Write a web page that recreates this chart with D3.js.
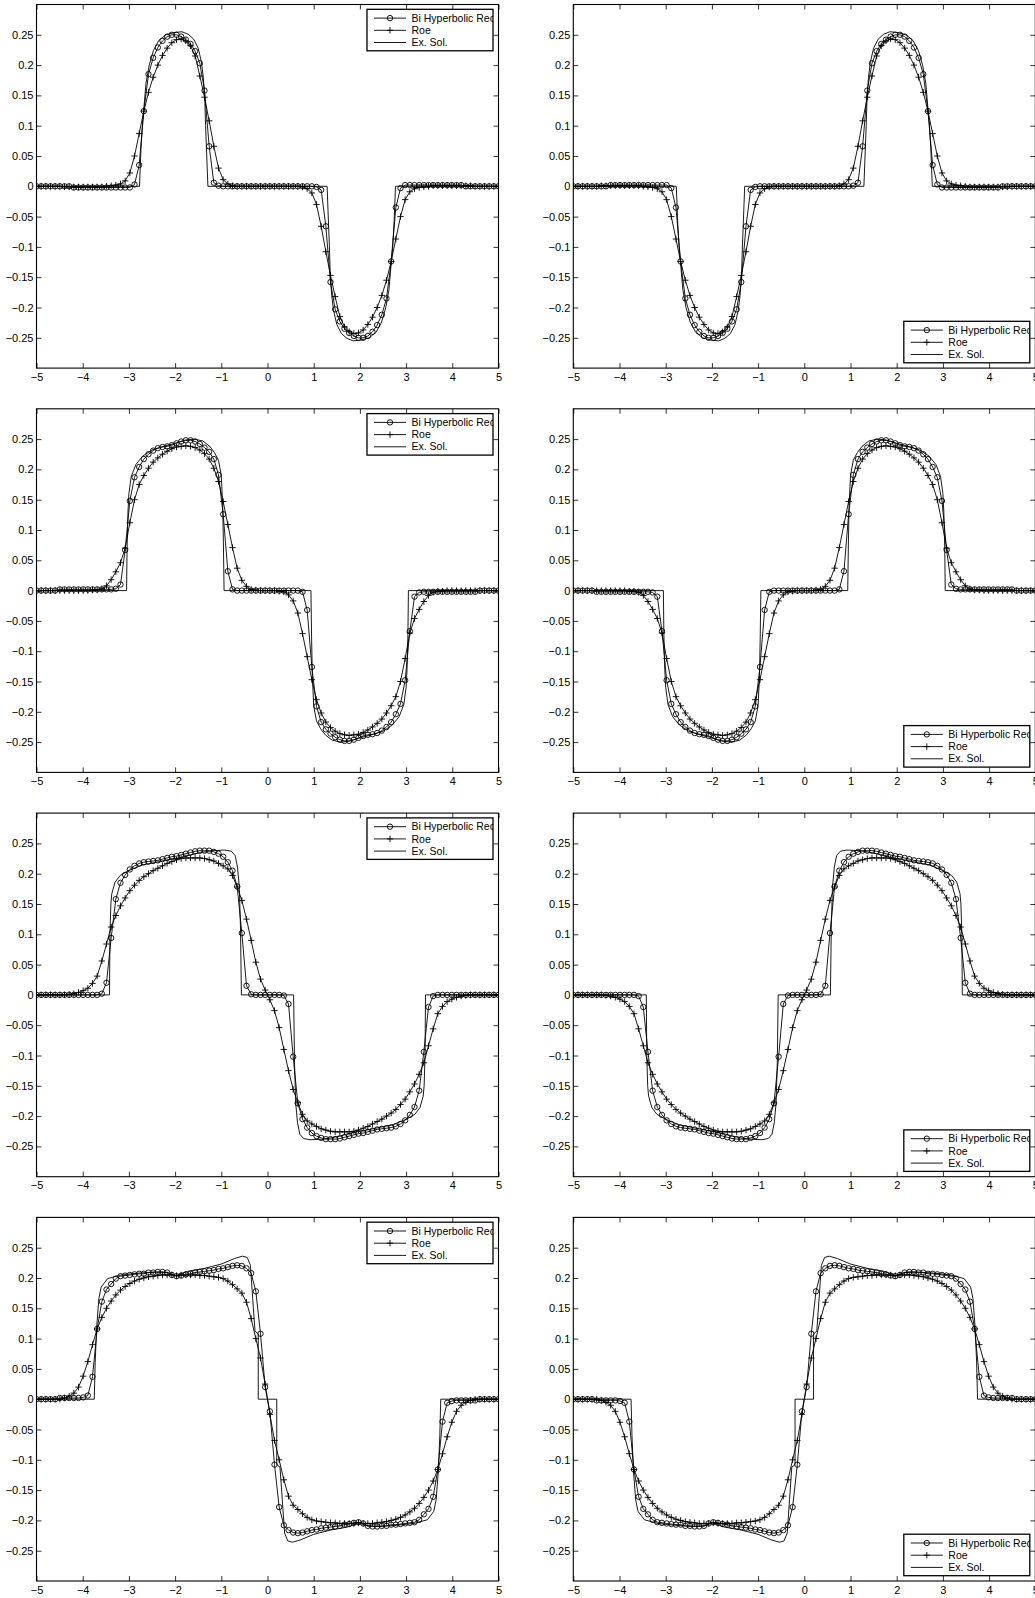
<!DOCTYPE html>
<html>
<head>
<meta charset="utf-8">
<script src="https://cdnjs.cloudflare.com/ajax/libs/d3/7.8.5/d3.min.js"></script>
<style>
  body { margin: 0; background: #fff; }
  svg { display: block; font-family: "Liberation Sans", Arial, Helvetica, sans-serif; }
  .tick line { stroke: #000; stroke-width: 0.8; }
  .tick text { font-size: 11px; fill: #000; }
  .legend text { font-size: 10.5px; fill: #000; }
</style>
</head>
<body>
<div id="chart"></div>
<script>
// cell positions of the numerical solutions: linspace(-5, 5, 100)
const gridX = d3.range(100).map(i => -5 + 10 * i / 99);

const xTicks = [-5, -4, -3, -2, -1, 0, 1, 2, 3, 4, 5];
const yTicks = [-0.25, -0.2, -0.15, -0.1, -0.05, 0, 0.05, 0.1, 0.15, 0.2, 0.25];
const legendLabels = ['Bi Hyperbolic Rec', 'Roe', 'Ex. Sol.'];

// ---- row 1 ----
const p1Bhr = [
  0, 0, 0, 0, 0, 0, 0, 0, -0.002, -0.002,
  -0.002, -0.002, -0.002, -0.002, -0.002, -0.002, -0.002, -0.002, -0.002, -0.002,
  -0.002, 0.003, 0.035, 0.124, 0.185, 0.212, 0.229, 0.240, 0.247, 0.250,
  0.250, 0.247, 0.242, 0.235, 0.223, 0.203, 0.158, 0.066, 0.006, 0.001,
  0, 0, 0, 0, 0, 0, 0, 0, 0, 0,
  0, 0, 0, 0, 0, 0, 0, 0, 0, 0,
  -0.001, -0.006, -0.066, -0.158, -0.203, -0.223, -0.235, -0.242, -0.247, -0.250,
  -0.250, -0.247, -0.240, -0.229, -0.212, -0.185, -0.124, -0.035, -0.003, 0.002,
  0.002, 0.002, 0.002, 0.002, 0.002, 0.002, 0.002, 0.002, 0.002, 0.002,
  0.002, 0.002, 0, 0, 0, 0, 0, 0, 0, 0
];
const p1Roe = [
  0, 0, 0, 0, 0, 0, -0.001, -0.001, -0.001, -0.001,
  -0.001, -0.001, -0.001, -0.001, -0.001, 0, 0.001, 0.002, 0.004, 0.009,
  0.022, 0.050, 0.087, 0.124, 0.155, 0.180, 0.200, 0.216, 0.228, 0.237,
  0.242, 0.243, 0.240, 0.232, 0.215, 0.182, 0.147, 0.108, 0.066, 0.030,
  0.011, 0.004, 0.001, 0, 0, 0, 0, 0, 0, 0,
  0, 0, 0, 0, 0, 0, 0, -0.001, -0.004, -0.011,
  -0.030, -0.066, -0.108, -0.147, -0.182, -0.215, -0.232, -0.240, -0.243, -0.242,
  -0.237, -0.228, -0.216, -0.200, -0.180, -0.155, -0.124, -0.087, -0.050, -0.022,
  -0.009, -0.004, -0.002, -0.001, 0, 0.001, 0.001, 0.001, 0.001, 0.001,
  0.001, 0.001, 0.001, 0.001, 0, 0, 0, 0, 0, 0
];
const p1ExX = [-5, -2.77, -2.74, -2.71, -2.68, -2.63, -2.56, -2.47, -2.35, -2.2, -2.0,
  -1.85, -1.72, -1.6, -1.5, -1.43, -1.39, -1.36, -1.34, -1.31, -1.29,
  1.29, 1.31, 1.34, 1.36, 1.39, 1.43, 1.5, 1.6, 1.72, 1.85,
  2.0, 2.2, 2.35, 2.47, 2.56, 2.63, 2.68, 2.71, 2.74, 2.77, 5];
const p1ExY = [0, 0, 0.06, 0.1, 0.125, 0.17, 0.2, 0.224, 0.241, 0.25, 0.254,
  0.255, 0.251, 0.243, 0.228, 0.205, 0.18, 0.15, 0.1, 0.04, 0,
  0, -0.04, -0.1, -0.15, -0.18, -0.205, -0.228, -0.243, -0.251, -0.255,
  -0.254, -0.25, -0.241, -0.224, -0.2, -0.17, -0.125, -0.1, -0.06, 0, 0];

// ---- row 2 ----
const p2Bhr = [
  0, 0, 0, 0, 0, 0.002, 0.002, 0.002, 0.002, 0.002,
  0.002, 0.002, 0.002, 0.002, 0.002, 0.002, 0.002, 0.003, 0.010, 0.067,
  0.148, 0.187, 0.204, 0.217, 0.225, 0.231, 0.235, 0.237, 0.238, 0.240,
  0.243, 0.246, 0.248, 0.248, 0.246, 0.242, 0.236, 0.229, 0.217, 0.191,
  0.126, 0.032, 0.002, 0, 0, 0, 0, 0, 0, 0,
  0, 0, 0, 0, 0, 0, 0, -0.002, -0.032, -0.126,
  -0.191, -0.217, -0.229, -0.236, -0.242, -0.246, -0.248, -0.248, -0.246, -0.243,
  -0.240, -0.238, -0.237, -0.235, -0.231, -0.225, -0.217, -0.204, -0.187, -0.148,
  -0.067, -0.010, -0.003, -0.002, -0.002, -0.002, -0.002, -0.002, -0.002, -0.002,
  -0.002, -0.002, -0.002, -0.002, -0.002, 0, 0, 0, 0, 0
];
const p2Roe = [
  0, 0, 0, 0, 0, 0, 0, 0, 0, 0,
  0, 0, 0.001, 0.001, 0.003, 0.008, 0.018, 0.031, 0.046, 0.070,
  0.112, 0.150, 0.175, 0.190, 0.202, 0.212, 0.219, 0.225, 0.230, 0.234,
  0.237, 0.238, 0.239, 0.238, 0.236, 0.232, 0.226, 0.217, 0.202, 0.180,
  0.147, 0.109, 0.071, 0.037, 0.017, 0.007, 0.002, 0.001, 0, 0,
  0, 0, -0.001, -0.002, -0.007, -0.017, -0.037, -0.071, -0.109, -0.147,
  -0.180, -0.202, -0.217, -0.226, -0.232, -0.236, -0.238, -0.239, -0.238, -0.237,
  -0.234, -0.230, -0.225, -0.219, -0.212, -0.202, -0.190, -0.175, -0.150, -0.112,
  -0.070, -0.046, -0.031, -0.018, -0.008, -0.003, -0.001, -0.001, 0, 0,
  0, 0, 0, 0, 0, 0, 0, 0, 0, 0
];
const p2ExX = [-5, -3.05, -3.04, -3.02, -3.0, -2.95, -2.85, -2.7, -2.5, -2.3, -2.05,
  -1.8, -1.6, -1.4, -1.25, -1.15, -1.06, -1.0, -0.97, -0.955, -0.94,
  0.94, 0.955, 0.97, 1.0, 1.06, 1.15, 1.25, 1.4, 1.6, 1.8,
  2.05, 2.3, 2.5, 2.7, 2.85, 2.95, 3.0, 3.02, 3.04, 3.05, 5];
const p2ExY = [0, 0, 0.07, 0.13, 0.16, 0.188, 0.208, 0.222, 0.232, 0.237, 0.242,
  0.248, 0.25, 0.247, 0.238, 0.228, 0.215, 0.19, 0.14, 0.08, 0,
  0, -0.08, -0.14, -0.19, -0.215, -0.228, -0.238, -0.247, -0.25, -0.248,
  -0.242, -0.237, -0.232, -0.222, -0.208, -0.188, -0.16, -0.13, -0.07, 0, 0];

// ---- row 3 ----
const p3Bhr = [
  0, 0, 0, 0, 0, 0, 0, 0, 0, 0,
  0, 0, 0, 0, 0.002, 0.020, 0.094, 0.158, 0.185, 0.198,
  0.207, 0.213, 0.217, 0.219, 0.220, 0.221, 0.222, 0.224, 0.226, 0.228,
  0.229, 0.231, 0.233, 0.235, 0.237, 0.238, 0.238, 0.238, 0.236, 0.233,
  0.228, 0.219, 0.205, 0.179, 0.102, 0.015, 0.001, 0, 0, 0,
  0, 0, 0, -0.001, -0.015, -0.102, -0.179, -0.205, -0.219, -0.228,
  -0.233, -0.236, -0.238, -0.238, -0.238, -0.237, -0.235, -0.233, -0.231, -0.229,
  -0.228, -0.226, -0.224, -0.222, -0.221, -0.220, -0.219, -0.217, -0.213, -0.207,
  -0.198, -0.185, -0.158, -0.094, -0.020, -0.002, 0, 0, 0, 0,
  0, 0, 0, 0, 0, 0, 0, 0, 0, 0
];
const p3Roe = [
  0, 0, 0, 0, 0, 0, 0, 0.001, 0.002, 0.004,
  0.007, 0.011, 0.019, 0.031, 0.056, 0.084, 0.112, 0.131, 0.147, 0.160,
  0.172, 0.181, 0.189, 0.195, 0.200, 0.205, 0.209, 0.213, 0.217, 0.220,
  0.223, 0.225, 0.226, 0.226, 0.226, 0.226, 0.225, 0.223, 0.221, 0.217,
  0.213, 0.208, 0.197, 0.178, 0.156, 0.125, 0.090, 0.054, 0.026, 0.008,
  -0.008, -0.026, -0.054, -0.090, -0.125, -0.156, -0.178, -0.197, -0.208, -0.213,
  -0.217, -0.221, -0.223, -0.225, -0.226, -0.226, -0.226, -0.226, -0.225, -0.223,
  -0.220, -0.217, -0.213, -0.209, -0.205, -0.200, -0.195, -0.189, -0.181, -0.172,
  -0.160, -0.147, -0.131, -0.112, -0.084, -0.056, -0.031, -0.019, -0.011, -0.007,
  -0.004, -0.002, -0.001, 0, 0, 0, 0, 0, 0, 0
];
const p3ExX = [-5, -3.42, -3.41, -3.39, -3.37, -3.3, -3.19, -3.01, -2.72, -2.22,
  -1.86, -1.5, -1.21, -0.92, -0.78, -0.7, -0.65, -0.61, -0.585, -0.565,
  0.565, 0.585, 0.61, 0.65, 0.7, 0.78, 0.92, 1.21, 1.5, 1.86,
  2.22, 2.72, 3.01, 3.19, 3.3, 3.37, 3.39, 3.41, 3.42, 5];
const p3ExY = [0, 0, 0.1, 0.15, 0.167, 0.186, 0.197, 0.205, 0.214, 0.222,
  0.227, 0.234, 0.238, 0.239, 0.237, 0.23, 0.211, 0.178, 0.112, 0,
  0, -0.112, -0.178, -0.211, -0.23, -0.237, -0.239, -0.238, -0.234, -0.227,
  -0.222, -0.214, -0.205, -0.197, -0.186, -0.167, -0.15, -0.1, 0, 0];

// ---- row 4 ----
const p4Bhr = [
  0, 0, 0, 0, 0, 0.002, 0.002, 0.002, 0.002, 0.002,
  0.003, 0.006, 0.037, 0.116, 0.161, 0.181, 0.190, 0.199, 0.203, 0.204,
  0.205, 0.206, 0.207, 0.207, 0.209, 0.209, 0.210, 0.210, 0.209, 0.205,
  0.203, 0.204, 0.206, 0.207, 0.209, 0.210, 0.211, 0.212, 0.213, 0.215,
  0.216, 0.218, 0.220, 0.221, 0.220, 0.216, 0.208, 0.178, 0.108, 0.020,
  -0.020, -0.108, -0.178, -0.208, -0.216, -0.220, -0.221, -0.220, -0.218, -0.216,
  -0.215, -0.213, -0.212, -0.211, -0.210, -0.209, -0.207, -0.206, -0.204, -0.203,
  -0.205, -0.209, -0.210, -0.210, -0.209, -0.209, -0.207, -0.207, -0.206, -0.205,
  -0.204, -0.203, -0.199, -0.190, -0.181, -0.161, -0.116, -0.037, -0.006, -0.003,
  -0.002, -0.002, -0.002, -0.002, -0.002, 0, 0, 0, 0, 0
];
const p4Roe = [
  0, 0, 0, 0, 0, 0, 0.002, 0.005, 0.010, 0.020,
  0.038, 0.062, 0.090, 0.116, 0.135, 0.150, 0.162, 0.172, 0.180, 0.186,
  0.191, 0.195, 0.198, 0.200, 0.202, 0.203, 0.204, 0.205, 0.205, 0.205,
  0.204, 0.205, 0.205, 0.205, 0.205, 0.204, 0.204, 0.203, 0.202, 0.201,
  0.199, 0.195, 0.189, 0.182, 0.175, 0.160, 0.133, 0.100, 0.068, 0.025,
  -0.025, -0.068, -0.100, -0.133, -0.160, -0.175, -0.182, -0.189, -0.195, -0.199,
  -0.201, -0.202, -0.203, -0.204, -0.204, -0.205, -0.205, -0.205, -0.205, -0.204,
  -0.205, -0.205, -0.205, -0.204, -0.203, -0.202, -0.200, -0.198, -0.195, -0.191,
  -0.186, -0.180, -0.172, -0.162, -0.150, -0.135, -0.116, -0.090, -0.062, -0.038,
  -0.020, -0.010, -0.005, -0.002, 0, 0, 0, 0, 0, 0
];
const p4ExX = [-5, -3.75, -3.73, -3.70, -3.65, -3.60, -3.46, -3.17, -2.8, -2.45, -2.16, -1.98,
  -1.73, -1.36, -1.0, -0.72, -0.54, -0.44, -0.37, -0.32, -0.27, -0.2, -0.2,
  0.2, 0.2, 0.27, 0.32, 0.37, 0.44, 0.54, 0.72, 1.0, 1.36, 1.73,
  1.98, 2.16, 2.45, 2.8, 3.17, 3.46, 3.60, 3.65, 3.70, 3.73, 3.75, 5];
const p4ExY = [0, 0, 0.06, 0.116, 0.166, 0.185, 0.199, 0.205, 0.208, 0.21, 0.209, 0.204,
  0.211, 0.216, 0.223, 0.232, 0.236, 0.234, 0.221, 0.166, 0.112, 0.108, 0,
  0, -0.108, -0.112, -0.166, -0.221, -0.234, -0.236, -0.232, -0.223, -0.216, -0.211,
  -0.204, -0.209, -0.21, -0.208, -0.205, -0.199, -0.185, -0.166, -0.116, -0.06, 0, 0];

const runs = [
  {bhr: p1Bhr, roe: p1Roe, exX: p1ExX, exY: p1ExY},
  {bhr: p2Bhr, roe: p2Roe, exX: p2ExX, exY: p2ExY},
  {bhr: p3Bhr, roe: p3Roe, exX: p3ExX, exY: p3ExY},
  {bhr: p4Bhr, roe: p4Roe, exX: p4ExX, exY: p4ExY}
];

// layout
const W = 462, H = 363.6;
const colLeft = [36.5, 573.3];
const rowTop = [4.5, 408.8, 813.1, 1217.4];
const legW = 126, legH = 41.5;

// right column shows the same runs mirrored in x
const mirror = a => a.slice().reverse();

const svg = d3.select('#chart').append('svg')
  .attr('width', 1035)
  .attr('height', 1598);

const x = d3.scaleLinear().domain([-5, 5]).range([0, W]);
const y = d3.scaleLinear().domain([-0.3, 0.3]).range([H, 0]);

const plusPath = 'M-3.2,0H3.2M0,-3.2V3.2';
const markR = 2.7;
const sw = 0.9;

function drawPanel(p, id) {
  const g = svg.append('g')
    .attr('transform', `translate(${colLeft[p.col]},${rowTop[p.row]})`);

  g.append('clipPath').attr('id', 'clip' + id)
    .append('rect').attr('width', W).attr('height', H);

  // axes, ticks pointing inward like matlab
  const fmtY = d => d === 0 ? '0' : d3.format('~g')(d);
  g.append('g')
    .attr('transform', `translate(0,${H})`)
    .call(d3.axisBottom(x).tickValues(xTicks).tickSizeInner(-5).tickSizeOuter(0).tickPadding(5).tickFormat(d3.format('d')))
    .call(a => a.select('.domain').remove());
  g.append('g')
    .call(d3.axisTop(x).tickValues(xTicks).tickSizeInner(-5).tickSizeOuter(0).tickFormat(''))
    .call(a => a.select('.domain').remove());
  g.append('g')
    .call(d3.axisLeft(y).tickValues(yTicks).tickSizeInner(-5).tickSizeOuter(0).tickPadding(3).tickFormat(fmtY))
    .call(a => a.select('.domain').remove());
  g.append('g')
    .attr('transform', `translate(${W},0)`)
    .call(d3.axisRight(y).tickValues(yTicks).tickSizeInner(-5).tickSizeOuter(0).tickFormat(''))
    .call(a => a.select('.domain').remove());
  g.selectAll('g').attr('font-family', null).attr('font-size', null);

  const plot = g.append('g').attr('clip-path', `url(#clip${id})`);

  const line = d3.line().x(d => x(d[0])).y(d => y(d[1]));
  const exact = p.exX.map((v, i) => [v, p.exY[i]]);
  const roe = gridX.map((v, i) => [v, p.roe[i]]);
  const bhr = gridX.map((v, i) => [v, p.bhr[i]]);

  plot.append('path').datum(exact)
    .attr('d', line).attr('fill', 'none').attr('stroke', '#000').attr('stroke-width', sw);
  plot.append('path').datum(roe)
    .attr('d', line).attr('fill', 'none').attr('stroke', '#000').attr('stroke-width', sw);
  plot.append('path').datum(bhr)
    .attr('d', line).attr('fill', 'none').attr('stroke', '#000').attr('stroke-width', sw);

  plot.selectAll('.plus').data(roe).join('path')
    .attr('class', 'plus')
    .attr('transform', d => `translate(${x(d[0])},${y(d[1])})`)
    .attr('d', plusPath).attr('stroke', '#000').attr('stroke-width', sw);
  plot.selectAll('.circ').data(bhr).join('circle')
    .attr('class', 'circ')
    .attr('cx', d => x(d[0])).attr('cy', d => y(d[1])).attr('r', markR)
    .attr('fill', 'none').attr('stroke', '#000').attr('stroke-width', sw);

  // box
  g.append('rect').attr('width', W).attr('height', H)
    .attr('fill', 'none').attr('stroke', '#000').attr('stroke-width', 1.1);

  // legend (text clipped at the box edge, as in the figure)
  const lx = W - 5.5 - legW;
  const ly = p.legend === 'top' ? 4.8 : H - 5.3 - legH;
  const leg = g.append('g').attr('class', 'legend').attr('transform', `translate(${lx},${ly})`);
  leg.append('clipPath').attr('id', 'lclip' + id)
    .append('rect').attr('width', legW).attr('height', legH);
  leg.append('rect').attr('width', legW).attr('height', legH)
    .attr('fill', '#fff');
  const inner = leg.append('g').attr('clip-path', `url(#lclip${id})`);
  const rows = inner.selectAll('.row').data(legendLabels).join('g')
    .attr('class', 'row')
    .attr('transform', (d, i) => `translate(0,${8.8 + i * 12.2})`);
  rows.append('line').attr('x1', 7).attr('x2', 39)
    .attr('stroke', '#000').attr('stroke-width', sw);
  rows.filter((d, i) => i === 0).append('circle')
    .attr('cx', 23).attr('r', markR).attr('fill', 'none').attr('stroke', '#000').attr('stroke-width', sw);
  rows.filter((d, i) => i === 1).append('path')
    .attr('transform', 'translate(23,0)').attr('d', plusPath).attr('stroke', '#000').attr('stroke-width', sw);
  rows.append('text')
    .attr('x', 44.5).attr('dy', '0.35em')
    .text(d => d);
  leg.append('rect').attr('width', legW).attr('height', legH)
    .attr('fill', 'none').attr('stroke', '#000').attr('stroke-width', 1.3);
}

const panels = [];
runs.forEach((r, k) => {
  panels.push({col: 0, row: k, legend: 'top', bhr: r.bhr, roe: r.roe, exX: r.exX, exY: r.exY});
  panels.push({col: 1, row: k, legend: 'bottom', bhr: mirror(r.bhr), roe: mirror(r.roe),
    exX: mirror(r.exX).map(v => -v), exY: mirror(r.exY)});
});
panels.forEach((p, i) => drawPanel(p, i));
</script>
</body>
</html>
